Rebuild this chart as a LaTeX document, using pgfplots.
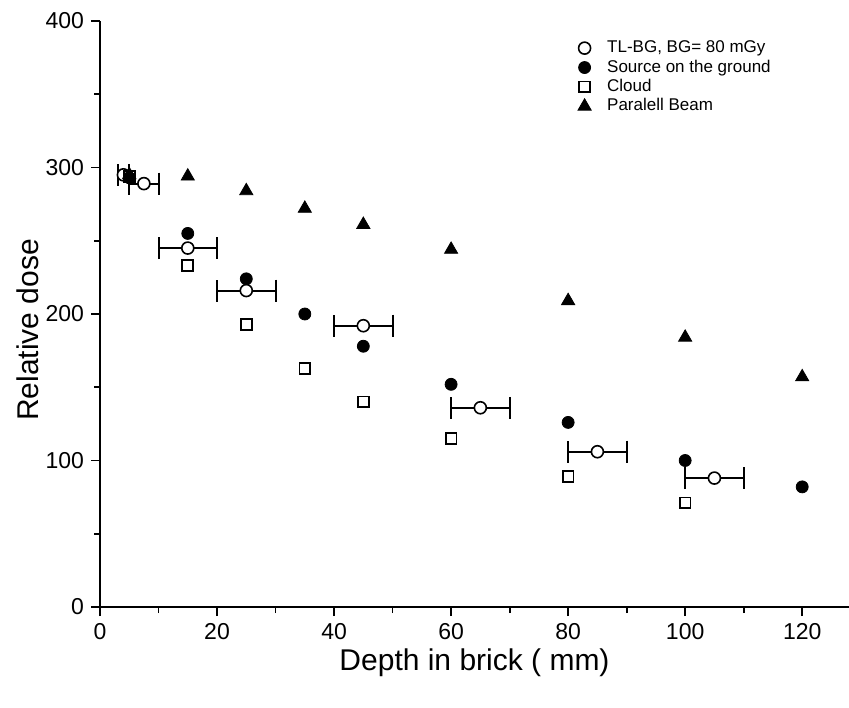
\documentclass[border=0pt]{standalone}
\usepackage{fontspec}
\setmainfont{Liberation Sans}
\usepackage{pgfplots}
\pgfplotsset{compat=1.18}
\begin{document}
\begin{tikzpicture}
\path[use as bounding box] (-50pt,-50pt) rectangle (374.5pt,303.5pt);
\begin{axis}[
  at={(0pt,0pt)}, anchor=south west,
  scale only axis, width=374.5pt, height=293pt,
  xmin=0, xmax=128, ymin=0, ymax=400,
  axis x line=bottom, axis y line=left,
  axis line style={-, line width=1.2pt},
  xtick={0,20,...,120}, ytick={0,100,...,400},
  minor x tick num=1, minor y tick num=1,
  tick align=outside,
  major tick length=4.5pt, minor tick length=3pt,
  every tick/.style={black, line width=0.9pt},
  /pgf/number format/assume math mode=true,
  tick label style={font=\fontsize{11.5}{13}\selectfont},
  xlabel={Depth in brick ( mm)},
  ylabel={Relative dose},
  label style={font=\fontsize{15}{18}\selectfont},
  xlabel style={at={(axis description cs:0.5,-0.0956)}, anchor=center},
  ylabel style={at={(axis description cs:-0.096,0.473)}, anchor=center},
  clip=false,
  legend style={at={(rel axis cs:0.635,0.974)}, anchor=north west, draw=none, fill=none,
    font=\fontsize{8.5}{9.5}\selectfont, row sep=0.2pt, inner sep=1pt,
    nodes={inner sep=1pt, text height=6pt, text depth=1.5pt},
    /tikz/every odd column/.append style={column sep=7pt}},
  legend cell align=left,
]
% TL-BG, BG = 80 mGy (open circles with horizontal bars)
\addplot+[only marks, black, mark=*, mark size=3pt, mark options={fill=white, line width=0.8pt},
  error bars/.cd, x dir=both, x explicit,
  error bar style={line width=1pt},
  error mark options={rotate=90, mark size=5.5pt, line width=1pt}]
  coordinates {
  (4,295) +- (1,0)
  (7.5,289) +- (2.5,0)
  (15,245) +- (5,0)
  (25,216) +- (5,0)
  (45,192) +- (5,0)
  (65,136) +- (5,0)
  (85,106) +- (5,0)
  (105,88) +- (5,0)
  };
\addlegendentry{TL-BG, BG= 80 mGy}
% Source on the ground
\addplot+[only marks, black, mark=*, mark size=3pt, mark options={fill=black}]
  coordinates {(5,293) (15,255) (25,224) (35,200) (45,178) (60,152) (80,126) (100,100) (120,82)};
\addlegendentry{Source on the ground}
% Cloud
\addplot+[only marks, black, mark=square, mark size=2.7pt, mark options={line width=0.9pt}]
  coordinates {(5,294) (15,233) (25,193) (35,163) (45,140) (60,115) (80,89) (100,71)};
\addlegendentry{Cloud}
% Paralell Beam
\addplot+[only marks, black, mark=triangle*, mark size=3.8pt, mark options={fill=black}]
  coordinates {(5,295) (15,294) (25,284) (35,272) (45,261) (60,244) (80,209) (100,184) (120,157)};
\addlegendentry{Paralell Beam}
\end{axis}
\end{tikzpicture}
\end{document}
